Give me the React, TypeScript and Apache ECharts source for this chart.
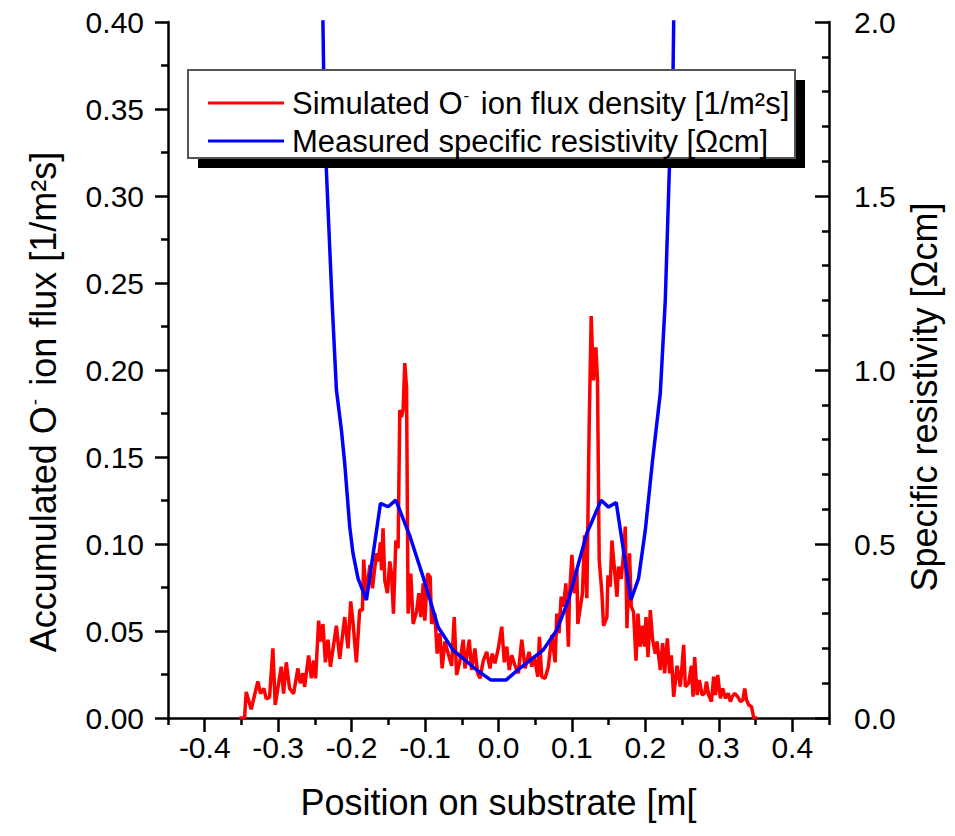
import React, { useEffect, useRef } from "react";
import * as echarts from "echarts";

// Simulated O- ion flux density (left axis)
const fluxPos = [
  -0.3527, -0.3458, -0.3435, -0.3367, -0.3277, -0.324, -0.3195, -0.3162, -0.3117, -0.3072, -0.304,
  -0.2958, -0.2926, -0.289, -0.2845, -0.279, -0.2731, -0.2699, -0.2663, -0.264, -0.2585, -0.2548,
  -0.2517, -0.249, -0.2449, -0.2422, -0.239, -0.2357, -0.2322, -0.2289, -0.2207, -0.2162, -0.2094,
  -0.2049, -0.2012, -0.1981, -0.1935, -0.189, -0.1853, -0.1835, -0.1808, -0.1776, -0.1749, -0.1716,
  -0.1662, -0.164, -0.1607, -0.1593, -0.1572, -0.1548, -0.1512, -0.148, -0.1457, -0.143, -0.1398,
  -0.1367, -0.1344, -0.1321, -0.1299, -0.1276, -0.1252, -0.1231, -0.1194, -0.1162, -0.1116, -0.1085,
  -0.1057, -0.1026, -0.1003, -0.0966, -0.093, -0.0911, -0.0866, -0.0835, -0.0798, -0.0767, -0.073,
  -0.0685, -0.0638, -0.0603, -0.057, -0.0525, -0.048, -0.0457, -0.0398, -0.0366, -0.0321, -0.0284,
  -0.0252, -0.0207, -0.0161, -0.0116, -0.0085, -0.0048, -0.0003, 0.0044, 0.0079, 0.0112, 0.0147,
  0.018, 0.0225, 0.027, 0.0317, 0.0362, 0.0416, 0.0453, 0.0488, 0.0535, 0.0557, 0.0589, 0.0634,
  0.0679, 0.0726, 0.0771, 0.0794, 0.0825, 0.0853, 0.0884, 0.0917, 0.0952, 0.0966, 0.0999, 0.1034,
  0.1067, 0.108, 0.1143, 0.1171, 0.1203, 0.1235, 0.1262, 0.1293, 0.1326, 0.1348, 0.1371, 0.1408,
  0.143, 0.1476, 0.149, 0.1521, 0.1544, 0.1576, 0.1613, 0.1634, 0.1671, 0.1703, 0.1726, 0.1749,
  0.1784, 0.1808, 0.1839, 0.1872, 0.1899, 0.193, 0.1962, 0.1989, 0.2008, 0.2035, 0.2067, 0.2098,
  0.2135, 0.2158, 0.2203, 0.2235, 0.2262, 0.2299, 0.233, 0.2353, 0.2385, 0.2431, 0.2476, 0.2521,
  0.2544, 0.2589, 0.2626, 0.2649, 0.2671, 0.2704, 0.2735, 0.2772, 0.2808, 0.2831, 0.2862, 0.2899,
  0.293, 0.2954, 0.2985, 0.3022, 0.3053, 0.309, 0.3127, 0.3158, 0.3181, 0.3217, 0.3258, 0.3295,
  0.3326, 0.3353, 0.3377, 0.3408, 0.3445, 0.3476, 0.3522,
];
const fluxVal = [
  0, 0, 0.015, 0.005, 0.021, 0.014, 0.017, 0.011, 0.012, 0.04, 0.0075,
  0.0295, 0.014, 0.032, 0.017, 0.014, 0.0285, 0.02, 0.0257, 0.018, 0.036, 0.0228,
  0.033, 0.0228, 0.056, 0.044, 0.054, 0.032, 0.045, 0.0295, 0.053, 0.034, 0.058,
  0.04, 0.067, 0.055, 0.032, 0.062, 0.062, 0.091, 0.0717, 0.08, 0.088, 0.0745,
  0.0947, 0.09, 0.101, 0.085, 0.109, 0.079, 0.0717, 0.09, 0.083, 0.06, 0.102,
  0.0975, 0.177, 0.173, 0.177, 0.204, 0.19, 0.06, 0.083, 0.054, 0.061, 0.0717,
  0.058, 0.0774, 0.056, 0.083, 0.081, 0.054, 0.06, 0.037, 0.0487, 0.0285, 0.044,
  0.037, 0.03, 0.058, 0.0247, 0.033, 0.045, 0.0285, 0.045, 0.0276, 0.04, 0.0257,
  0.0228, 0.033, 0.038, 0.0285, 0.037, 0.0314, 0.04, 0.0525, 0.032, 0.041, 0.0276,
  0.036, 0.03, 0.0257, 0.045, 0.0285, 0.038, 0.0295, 0.035, 0.0237, 0.0467, 0.0237, 0.0228,
  0.0295, 0.0477, 0.032, 0.06, 0.0487, 0.0697, 0.064, 0.0774, 0.041, 0.0697, 0.0937, 0.0717,
  0.085, 0.054, 0.0717, 0.105, 0.0688, 0.169, 0.231, 0.194, 0.213, 0.194, 0.091, 0.0717,
  0.053, 0.058, 0.082, 0.0755, 0.102, 0.087, 0.0697, 0.087, 0.08, 0.0947, 0.11, 0.0516,
  0.0947, 0.064, 0.061, 0.033, 0.06, 0.041, 0.053, 0.041, 0.058, 0.035, 0.062, 0.045,
  0.037, 0.044, 0.0276, 0.043, 0.0257, 0.0458, 0.0257, 0.036, 0.0122, 0.03, 0.018, 0.042,
  0.018, 0.02, 0.03, 0.0122, 0.035, 0.0132, 0.0218, 0.0132, 0.0142, 0.0209, 0.0132, 0.0094,
  0.0237, 0.0132, 0.0247, 0.0113, 0.017, 0.0113, 0.0142, 0.0094, 0.0122, 0.0142, 0.0122, 0.0094,
  0.0103, 0.017, 0.0103, 0.0075, 0.0065, 0, 0,
];

// Measured specific resistivity (right axis)
const resPos = [
  -0.2395, -0.239, -0.2381, -0.2344, -0.2267, -0.2207, -0.2139, -0.2094, -0.2026, -0.1981, -0.1913,
  -0.1798, -0.1607, -0.1503, -0.1398, -0.1207, -0.1026, -0.0821, -0.0617, -0.0297, -0.0102, 0.0102,
  0.028, 0.0607, 0.0794, 0.0952, 0.1203, 0.1398, 0.1498, 0.1603, 0.1804, 0.1907, 0.1999, 0.2098,
  0.2203, 0.2271, 0.2326, 0.2377, 0.2385, 0.2388,
];
const resVal = [
  2.1, 1.994, 1.862, 1.575, 1.201, 0.943, 0.828, 0.732, 0.55, 0.473, 0.401,
  0.339, 0.617, 0.607, 0.626, 0.523, 0.405, 0.261, 0.195, 0.138, 0.109, 0.109,
  0.141, 0.195, 0.253, 0.339, 0.531, 0.626, 0.606, 0.619, 0.339, 0.401, 0.54, 0.741,
  0.933, 1.201, 1.575, 1.862, 1.994, 2.1,
];

const xMajorTicks = [-0.4, -0.3, -0.2, -0.1, 0.0, 0.1, 0.2, 0.3, 0.4];
const xMinorTicks = [-0.45, -0.35, -0.25, -0.15, -0.05, 0.05, 0.15, 0.25, 0.35, 0.45];

const FLUX_NAME = "Simulated O- ion flux density [1/m²s]";
const RES_NAME = "Measured specific resistivity [Ωcm]";

const FONT = "'Liberation Sans', Arial, Helvetica, sans-serif";

export default function App() {
  const ref = useRef<HTMLDivElement>(null);

  useEffect(() => {
    if (!ref.current) return;
    const chart = echarts.init(ref.current, undefined, { renderer: "svg" });
    const axisLineStyle = { color: "#000", width: 2.5 };
    const tickLine = { color: "#000", width: 2.5 };
    const supStyle = {
      fontSize: 17,
      fontFamily: FONT,
      color: "#000",
      verticalAlign: "top",
      padding: [0, 3, 15, 1],
    };

    chart.setOption({
      animation: false,
      backgroundColor: "#fff",
      grid: { left: 168, right: 126, top: 22, bottom: 118, containLabel: false },
      graphic: [
        { type: "rect", z: 3, shape: { x: 198, y: 80, width: 607, height: 88 }, style: { fill: "#000" } },
        {
          type: "rect",
          z: 3.5,
          shape: { x: 188, y: 70, width: 607, height: 88 },
          style: { fill: "#fff", stroke: "#555", lineWidth: 2 },
        },
      ],
      legend: {
        orient: "vertical",
        left: 203,
        top: 82,
        z: 5,
        icon: "rect",
        itemWidth: 76,
        itemHeight: 3,
        itemGap: 6,
        data: [FLUX_NAME, RES_NAME],
        formatter: (name: string) => name.replace("O-", "O{sup|-}"),
        textStyle: {
          fontFamily: FONT,
          fontSize: 31,
          color: "#000",
          lineHeight: 32,
          padding: [0, 0, 0, 3],
          rich: { sup: supStyle },
        },
      },
      xAxis: [
        {
          type: "value",
          min: -0.45,
          max: 0.45,
          position: "bottom",
          name: "Position on substrate [m[",
          nameLocation: "middle",
          nameGap: 66,
          nameTextStyle: { fontFamily: FONT, fontSize: 36, color: "#000" },
          axisLine: { show: true, onZero: false, lineStyle: axisLineStyle },
          axisTick: { show: true, customValues: xMajorTicks, length: 14, lineStyle: tickLine },
          axisLabel: {
            customValues: xMajorTicks,
            formatter: (v: number) => v.toFixed(1),
            fontFamily: FONT,
            fontSize: 30,
            color: "#000",
            margin: 14,
          },
          splitLine: { show: false },
        },
        {
          type: "value",
          min: -0.45,
          max: 0.45,
          position: "bottom",
          axisLine: { show: false },
          axisTick: { show: true, customValues: xMinorTicks, length: 7, lineStyle: tickLine },
          axisLabel: { show: false },
          splitLine: { show: false },
        },
      ],
      yAxis: [
        {
          type: "value",
          min: 0,
          max: 0.4,
          interval: 0.05,
          position: "left",
          name: "Accumulated O{sup|-} ion flux [1/m²s]",
          nameLocation: "middle",
          nameRotate: 90,
          nameGap: 107,
          nameTextStyle: {
            fontFamily: FONT,
            fontSize: 36,
            color: "#000",
            padding: [0, 64, 0, 0],
            rich: { sup: { ...supStyle, fontSize: 19, padding: [0, 3, 17, 1] } },
          },
          axisLine: { show: true, onZero: false, lineStyle: axisLineStyle },
          axisTick: { show: true, length: 13, lineStyle: tickLine },
          minorTick: { show: true, splitNumber: 2, length: 7, lineStyle: tickLine },
          axisLabel: {
            formatter: (v: number) => v.toFixed(2),
            fontFamily: FONT,
            fontSize: 30,
            color: "#000",
            margin: 24,
          },
          splitLine: { show: false },
          minorSplitLine: { show: false },
        },
        {
          type: "value",
          min: 0,
          max: 2,
          interval: 0.5,
          position: "right",
          name: "Specific resistivity [Ωcm]",
          nameLocation: "middle",
          nameRotate: 90,
          nameGap: 76,
          nameTextStyle: {
            fontFamily: FONT,
            fontSize: 36,
            color: "#000",
            padding: [0, 54, 0, 0],
          },
          axisLine: { show: true, onZero: false, lineStyle: axisLineStyle },
          axisTick: { show: true, inside: true, length: 14, lineStyle: tickLine },
          minorTick: { show: true, splitNumber: 5, length: 7, lineStyle: tickLine },
          axisLabel: {
            formatter: (v: number) => v.toFixed(1),
            fontFamily: FONT,
            fontSize: 30,
            color: "#000",
            margin: 25,
          },
          splitLine: { show: false },
          minorSplitLine: { show: false },
        },
      ],
      series: [
        {
          name: FLUX_NAME,
          type: "line",
          xAxisIndex: 0,
          yAxisIndex: 0,
          symbol: "none",
          z: 2,
          lineStyle: { color: "#ff0000", width: 3.5 },
          itemStyle: { color: "#ff0000" },
          data: fluxPos.map((p, i) => [p, fluxVal[i]]),
        },
        {
          name: RES_NAME,
          type: "line",
          xAxisIndex: 0,
          yAxisIndex: 1,
          symbol: "none",
          z: 2.5,
          clip: true,
          lineStyle: { color: "#0000ff", width: 3.5 },
          itemStyle: { color: "#0000ff" },
          data: resPos.map((p, i) => [p, resVal[i]]),
        },
      ],
    });
    return () => chart.dispose();
  }, []);

  return (
    <div
      ref={ref}
      style={{ position: "fixed", left: 0, top: 0, width: 955, height: 836, background: "#fff" }}
    />
  );
}
